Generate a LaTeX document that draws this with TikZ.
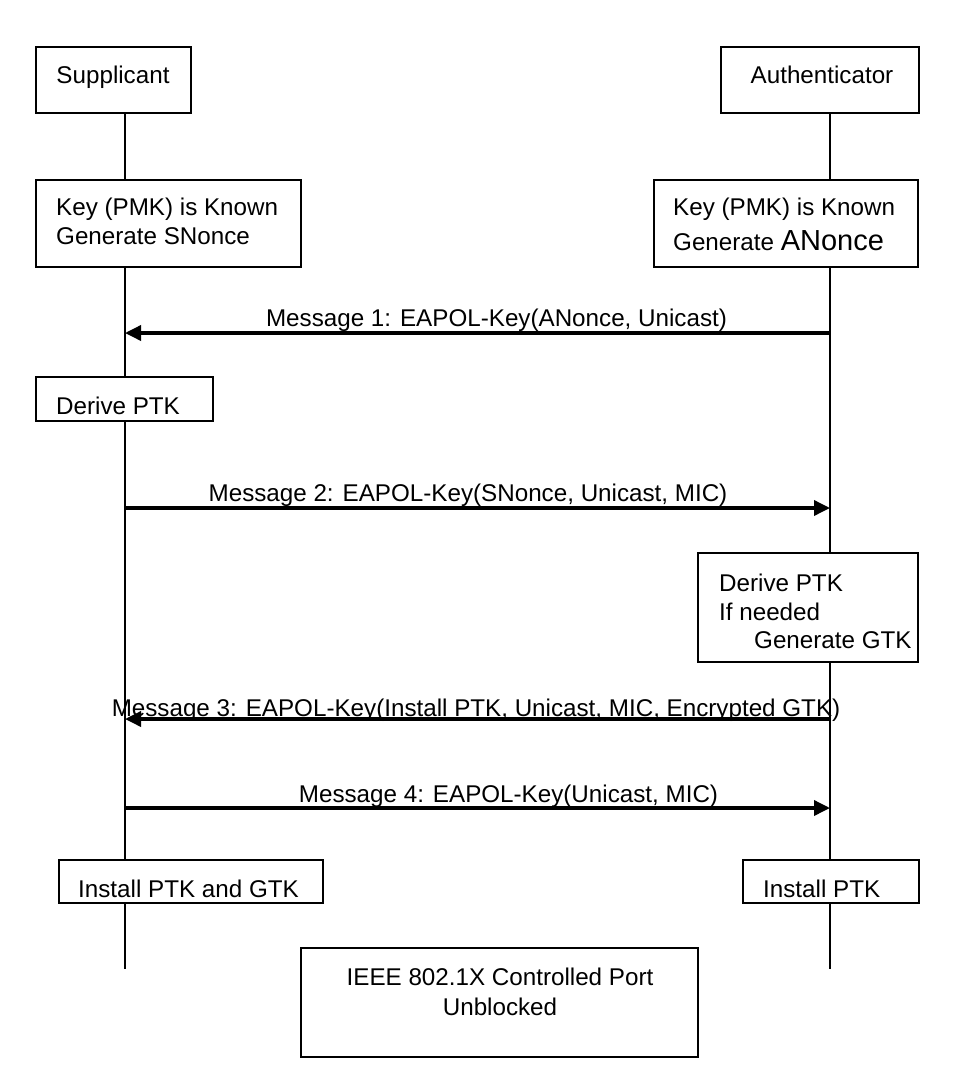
\documentclass[tikz,border=0pt]{standalone}
\usepackage{fontspec}
\setmainfont{Liberation Sans}
\usetikzlibrary{arrows.meta}
\begin{document}
\begin{tikzpicture}[x=1pt,y=-1pt,
  box/.style={draw=black, line width=2.3pt, fill=white, rectangle, inner sep=0pt},
  txt/.style={inner sep=0pt, font=\fontsize{24.2}{29}\selectfont},
  life/.style={draw=black, line width=2pt},
  msg/.style={draw=black, line width=3.5pt, -{Triangle[length=16pt,width=15pt]}}]
\useasboundingbox (0,0) rectangle (966,1076);
\fill[white] (0,0) rectangle (966,1076);
% lifelines
\coordinate (sTop) at (125,113);
\coordinate (sBot) at (125,969);
\coordinate (aTop) at (830,113);
\coordinate (aBot) at (830,969);
\draw[life] (sTop) -- (sBot);
\draw[life] (aTop) -- (aBot);
% boxes
\node[box, minimum width=155pt, minimum height=66pt] (sup) at (113.5,80) {};
\node[box, minimum width=198pt, minimum height=66pt] (auth) at (820,80) {};
\node[box, minimum width=265pt, minimum height=87pt] (skey) at (168.5,223.5) {};
\node[box, minimum width=264pt, minimum height=87pt] (akey) at (786,223.5) {};
\node[box, minimum width=177pt, minimum height=44pt] (sder) at (124.5,399) {};
\node[box, minimum width=220pt, minimum height=109pt] (ader) at (808,607.5) {};
\node[box, minimum width=264pt, minimum height=43pt] (sinst) at (191,881.5) {};
\node[box, minimum width=176pt, minimum height=43pt] (ainst) at (831,881.5) {};
\node[box, minimum width=397pt, minimum height=109pt] (ieee) at (499.5,1002.5) {};
% texts
\node[txt, anchor=base] (tsup) at (113,83) {Supplicant};
\node[txt, anchor=base] (tauth) at (822,83) {Authenticator};
\node[txt, anchor=base west] (tsk1) at (56,215) {Key (PMK) is Known};
\node[txt, anchor=base west] (tsk2) at (56,244) {Generate SNonce};
\node[txt, anchor=base west] (tak1) at (673,215) {Key (PMK) is Known};
\node[txt, anchor=base west] (tak2) at (673,250) {Generate {\fontsize{29}{34}\selectfont ANonce}};
\node[txt, anchor=base west] (tsd) at (56,414) {Derive PTK};
\node[txt, anchor=base west] (tad1) at (719,591) {Derive PTK};
\node[txt, anchor=base west] (tad2) at (719,620) {If needed};
\node[txt, anchor=base west] (tad3) at (754,648) {Generate GTK};
\node[txt, anchor=base west] (tsi) at (78,897) {Install PTK and GTK};
\node[txt, anchor=base west] (tai) at (763,897) {Install PTK};
\node[txt, anchor=base] (tie1) at (500,985) {IEEE 802.1X Controlled Port};
\node[txt, anchor=base] (tie2) at (500,1015) {Unblocked};
% messages
\coordinate (s1) at (125,333); \coordinate (a1) at (830,333);
\coordinate (s2) at (125,508); \coordinate (a2) at (830,508);
\coordinate (s3) at (125,719); \coordinate (a3) at (830,719);
\coordinate (s4) at (125,808); \coordinate (a4) at (830,808);
\draw[msg] (a1) -- (s1);
\draw[msg] (s2) -- (a2);
\draw[msg] (a3) -- (s3);
\draw[msg] (s4) -- (a4);
\node[txt, anchor=base] (m1) at (496.5,326) {Message 1: EAPOL-Key(ANonce, Unicast)};
\node[txt, anchor=base] (m2) at (468,501) {Message 2: EAPOL-Key(SNonce, Unicast, MIC)};
\node[txt, anchor=base] (m3) at (476,716) {Message 3: EAPOL-Key(Install PTK, Unicast, MIC, Encrypted GTK)};
\node[txt, anchor=base] (m4) at (508.5,802) {Message 4: EAPOL-Key(Unicast, MIC)};
\end{tikzpicture}
\end{document}
